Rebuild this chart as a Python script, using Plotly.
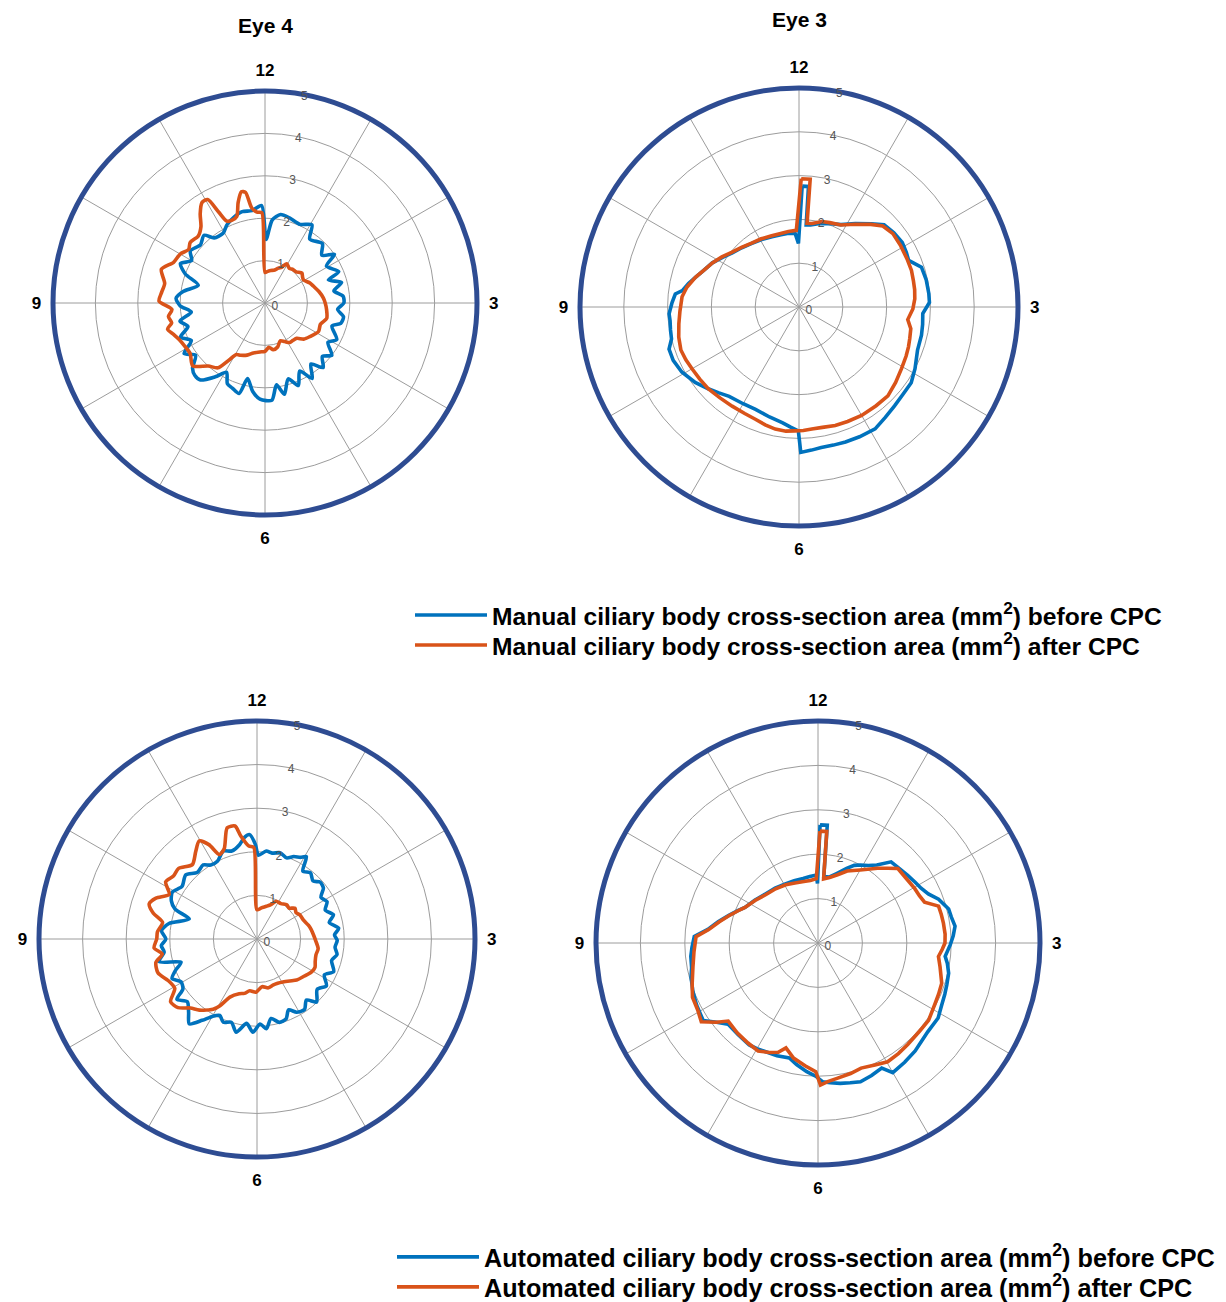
import plotly.graph_objects as go

# ---------------- data (theta in degrees clockwise from 12 o'clock, r in mm^2) -------------
CLOCK_TICKS = [0, 30, 60, 90, 120, 150, 180, 210, 240, 270, 300, 330]
CLOCK_LABELS = ["12", "", "", "3", "", "", "6", "", "", "9", "", ""]
RADIAL_TICKS = [0, 1, 2, 3, 4, 5]

TITLES = ["Eye 4", "Eye 3"]
LEGEND_MANUAL = ["Manual ciliary body cross-section area (mm<sup>2</sup>) before CPC",
                 "Manual ciliary body cross-section area (mm<sup>2</sup>) after CPC"]
LEGEND_AUTO = ["Automated ciliary body cross-section area (mm<sup>2</sup>) before CPC",
               "Automated ciliary body cross-section area (mm<sup>2</sup>) after CPC"]

# Eye 4 - manual
E4_MANUAL_BEFORE = [(1, 1.5), (5, 1.97), (10, 2.12), (16, 2.09), (24, 2.03), (31, 2.15), (35, 1.84), (44, 1.95),
                    (50, 1.75), (55, 2.0), (59, 1.69), (67, 1.89), (70, 1.59), (75, 1.87), (80, 1.65), (85, 1.85),
                    (90, 1.86), (95, 1.72), (100, 1.88), (105, 1.85), (109, 1.67), (117, 1.9), (122, 1.75),
                    (128, 2.0), (133, 1.85), (138, 2.05), (143, 1.8), (148, 2.1), (153, 1.8), (158, 2.1),
                    (163, 1.87), (168, 2.2), (172, 1.95), (176, 2.3), (183, 2.27), (188, 2.1), (193, 1.83),
                    (196, 2.22), (201, 2.15), (205, 2.1), (209, 1.87), (214, 2.1), (220, 2.37), (224, 2.38),
                    (228, 2.3), (233, 2.05), (238, 2.25), (243, 1.95), (248, 2.15), (253, 1.9), (258, 2.05),
                    (263, 1.75), (268, 2.0), (273, 2.1), (278, 1.95), (285, 1.63), (290, 2.0), (295, 2.2),
                    (300, 2.0), (305, 2.15), (312, 2.05), (318, 2.15), (322, 1.95), (329, 1.92), (334, 2.05),
                    (340, 2.15), (346, 2.22), (352, 2.2), (358, 2.3)]
E4_MANUAL_AFTER = [(0, 0.72), (5, 0.75), (10, 0.78), (15, 0.8), (21, 0.88), (25, 0.93), (29, 1.06), (35, 1.0),
                   (40, 1.03), (45, 1.04), (51, 1.12), (55, 1.08), (59, 1.06), (66, 1.16), (71, 1.21), (78, 1.3),
                   (85, 1.38), (90, 1.42), (96, 1.46), (104, 1.5), (111, 1.4), (118, 1.43), (127, 1.32),
                   (133, 1.25), (138, 1.12), (143, 1.1), (148, 1.1), (153, 1.02), (158, 0.96), (164, 1.08),
                   (170, 1.12), (175, 1.05), (180, 1.14), (186, 1.16), (193, 1.21), (199, 1.3), (205, 1.36),
                   (209, 1.39), (213, 1.65), (216, 1.89), (222, 2.0), (229, 2.26), (236, 2.13), (242, 2.15),
                   (247, 2.2), (251, 2.28), (255, 2.38), (258, 2.25), (262, 2.3), (266, 2.2), (271, 2.5),
                   (276, 2.45), (281, 2.41), (288, 2.57), (294, 2.36), (300, 2.31), (305, 2.2), (309, 2.27),
                   (315, 2.23), (320, 2.35), (324, 2.6), (328, 2.8), (331, 2.79), (333, 2.41), (335, 2.13),
                   (338, 2.1), (342, 2.15), (345, 2.45), (348, 2.68), (350, 2.65), (352, 2.27), (355, 2.15),
                   (358, 2.13)]

# Eye 3 - manual
E3_MANUAL_BEFORE = [(1.5, 2.76), (4.5, 2.76), (5, 1.88), (8, 1.89), (13, 1.95), (19, 2.02), (27, 2.11), (34, 2.3),
                    (41, 2.52), (46, 2.7), (52, 2.75), (58, 2.78), (63, 2.75), (67, 2.72), (72, 2.94), (78, 2.97),
                    (84, 2.98), (88, 2.98), (93, 2.83), (98, 2.85), (103, 2.87), (110, 2.88), (118, 3.0),
                    (124, 3.09), (130, 3.1), (136, 3.14), (142, 3.2), (148, 3.28), (155, 3.27), (161, 3.26),
                    (166, 3.25), (171, 3.25), (175, 3.28), (179.3, 3.32), (180.3, 2.83), (184, 2.75), (188, 2.67),
                    (195, 2.6), (203, 2.54), (210, 2.55), (218, 2.59), (223, 2.68), (228, 2.79), (234, 2.93),
                    (241, 3.06), (247, 3.12), (252, 3.12), (256, 3.0), (260, 2.98), (264, 2.96), (267, 2.97),
                    (272, 2.9), (276, 2.84), (278, 2.69), (282, 2.58), (286, 2.46), (291, 2.33), (297, 2.22),
                    (303, 2.08), (309, 1.96), (316, 1.88), (323, 1.81), (331, 1.76), (339, 1.72), (346, 1.7),
                    (352, 1.7), (357, 1.68), (359.5, 1.45)]
E3_MANUAL_AFTER = [(1, 2.93), (5, 2.93), (5.5, 1.92), (9, 1.93), (15, 2.02), (20, 2.05), (27, 2.1), (34, 2.28),
                   (41, 2.5), (46, 2.66), (52, 2.72), (59, 2.71), (66, 2.7), (72, 2.7), (77, 2.68), (81.5, 2.67),
                   (86, 2.65), (91, 2.6), (96.6, 2.5), (101, 2.6), (106, 2.63), (110, 2.66), (114.6, 2.69),
                   (121, 2.73), (128, 2.8), (135, 2.87), (142, 2.86), (150, 2.86), (157, 2.84), (163, 2.83),
                   (169, 2.8), (174, 2.8), (178, 2.82), (182, 2.83), (186, 2.85), (191, 2.84), (196, 2.8),
                   (201, 2.75), (207, 2.73), (214, 2.73), (221, 2.75), (228, 2.79), (234, 2.8), (240, 2.82),
                   (245, 2.85), (250, 2.87), (256, 2.83), (262, 2.77), (268, 2.72), (275, 2.68), (280, 2.6),
                   (286, 2.46), (291, 2.33), (297, 2.22), (303, 2.1), (309, 1.98), (316, 1.89), (323, 1.82),
                   (331, 1.78), (339, 1.74), (346, 1.73), (352, 1.74), (358, 1.75)]

# Eye 4 - automated
E4_AUTO_BEFORE = [(1, 1.92), (6, 2.03), (10, 2.0), (15, 2.05), (20, 1.98), (24, 2.07), (28, 2.12), (31, 2.2),
                  (34, 1.88), (39, 1.95), (44, 1.85), (48, 1.95), (52.5, 1.92), (57, 1.75), (62, 1.82), (67, 1.7),
                  (72.5, 1.84), (77, 1.7), (82.5, 1.89), (87, 1.78), (91, 1.84), (96, 1.8), (101, 1.87),
                  (106, 1.78), (113, 1.91), (118, 1.75), (124, 1.92), (130, 1.8), (136.6, 1.99), (141, 1.8),
                  (146, 1.95), (151.6, 1.91), (156, 1.78), (160, 1.95), (165, 1.98), (170, 1.85), (174, 2.07),
                  (178, 1.95), (182.5, 2.14), (187, 1.95), (192.6, 2.19), (197, 2.0), (202, 2.06), (206, 1.95),
                  (210, 2.05), (214, 2.25), (218.6, 2.49), (223, 2.3), (228, 2.15), (233, 2.3), (236, 2.05),
                  (240.6, 2.0), (245, 2.15), (249, 2.0), (253, 1.82), (257, 2.31), (262, 2.15), (266, 2.2),
                  (270, 2.09), (275, 2.2), (280, 2.05), (286.5, 1.62), (290, 2.0), (294, 2.15), (299, 2.22),
                  (305, 2.1), (312, 2.2), (318, 2.05), (324, 2.1), (328, 2.0), (333, 2.0), (339, 2.16),
                  (344, 2.1), (349.5, 2.2), (353, 2.35), (356, 2.4), (359, 2.17)]
E4_AUTO_AFTER = [(0, 0.67), (8, 0.72), (16, 0.78), (22, 0.85), (27, 0.97), (34, 0.98), (41, 1.04), (46, 1.02),
                 (51, 1.12), (56, 1.08), (61, 1.13), (68, 1.15), (75, 1.22), (80, 1.26), (86, 1.3), (92, 1.35),
                 (99, 1.42), (105, 1.4), (111, 1.43), (116, 1.48), (121, 1.46), (128, 1.38), (136, 1.31),
                 (142, 1.22), (149, 1.15), (155, 1.12), (161, 1.12), (167, 1.15), (174, 1.1), (181, 1.22),
                 (188, 1.2), (193, 1.28), (198, 1.32), (205, 1.47), (209, 1.75), (212, 1.9), (219, 2.1),
                 (224, 2.2), (229, 2.4), (234, 2.45), (239, 2.2), (245, 2.25), (251, 2.4), (257, 2.38),
                 (261, 2.2), (265, 2.37), (270, 2.3), (274, 2.29), (280, 2.2), (284, 2.45), (288, 2.6),
                 (292, 2.5), (297, 2.26), (302, 2.47), (307, 2.4), (312, 2.42), (319, 2.26), (325, 2.45),
                 (329.5, 2.61), (333, 2.43), (336, 2.12), (340, 2.2), (345, 2.64), (349, 2.64), (351, 2.4),
                 (355, 2.14), (358, 2.1)]

# Eye 3 - automated
E3_AUTO_BEFORE = [(1, 2.66), (4.5, 2.66), (5, 1.5), (10, 1.51), (15, 1.62), (21, 1.8), (25, 1.93), (28.5, 2.0),
                  (33, 2.08), (37, 2.2), (42, 2.46), (47, 2.48), (53, 2.53), (58, 2.58), (62, 2.63), (66, 2.72),
                  (70, 2.89), (75.4, 3.04), (79, 3.06), (83, 3.11), (87, 3.05), (90.7, 2.98), (96, 2.88),
                  (99, 2.95), (103, 3.02), (108, 3.05), (112, 3.08), (117, 3.12), (122, 3.19), (129, 3.18),
                  (134, 3.22), (138, 3.27), (144, 3.32), (150, 3.37), (153, 3.16), (158, 3.22), (163, 3.27),
                  (167, 3.23), (171, 3.2), (175, 3.16), (178, 3.13), (181, 3.0), (185, 2.91), (190, 2.78),
                  (194, 2.67), (200, 2.7), (206, 2.72), (210, 2.75), (214, 2.77), (221, 2.74), (228, 2.73),
                  (232, 2.9), (236, 3.12), (243, 3.07), (249, 3.02), (255, 2.96), (259, 2.9), (264, 2.88),
                  (268, 2.84), (273, 2.79), (277, 2.5), (282, 2.3), (287, 2.11), (292, 1.95), (296, 1.83),
                  (304, 1.72), (313, 1.62), (322, 1.57), (331, 1.52), (339, 1.5), (347, 1.49), (353, 1.51),
                  (358.5, 1.53), (359.5, 1.34)]
E3_AUTO_AFTER = [(1, 2.52), (4.5, 2.52), (5, 1.45), (10, 1.5), (16, 1.6), (22, 1.75), (30, 1.9), (38.5, 2.15),
                 (43, 2.3), (47, 2.46), (53, 2.46), (60.7, 2.5), (65, 2.52), (69, 2.57), (73, 2.84), (77, 2.85),
                 (81, 2.86), (86, 2.87), (90, 2.86), (93, 2.8), (96.4, 2.73), (101, 2.8), (108, 2.93),
                 (113, 2.95), (117.5, 2.97), (125, 3.04), (131, 3.03), (138.5, 3.05), (144, 3.08),
                 (149.6, 3.1), (155, 3.03), (161, 2.98), (166, 3.03), (172, 3.08), (176, 3.13), (179, 3.2),
                 (181, 2.9), (186, 2.78), (192, 2.65), (197, 2.47), (200, 2.62), (204, 2.7), (209, 2.78),
                 (215, 2.75), (222, 2.72), (229, 2.68), (232, 2.9), (236, 3.17), (241, 3.1), (246.6, 3.08),
                 (252, 2.98), (259, 2.87), (266, 2.8), (273, 2.75), (277, 2.48), (282, 2.28), (287, 2.1),
                 (292, 1.94), (296, 1.83), (304, 1.71), (313, 1.6), (322, 1.55), (331, 1.5), (339, 1.45),
                 (347, 1.42), (353, 1.42), (358.5, 1.45)]

# ---------------- styling / layout ----------------
W, H = 1226, 1302
OFF = 8                       # default page margin around the plot div
BLUE = "#0072BD"
ORANGE = "#D95319"
RING = "#2E4C92"
GRID = "#9c9c9c"
FONT = "Liberation Sans"

# polar panels: (center x px, center y px, radius px) in page pixels
PANELS = {
    "polar": (265, 303, 212),
    "polar2": (799, 307, 219),
    "polar3": (257, 939, 218),
    "polar4": (818, 943, 222),
}


def px(x):
    return (x - OFF) / W


def py(y):
    return 1 - (y - OFF) / H


def domain(cx, cy, rad):
    return dict(x=[px(cx - rad), px(cx + rad)], y=[py(cy + rad), py(cy - rad)])


fig = go.Figure()

series = [
    ("polar", E4_MANUAL_BEFORE, E4_MANUAL_AFTER, ("legend", "legend2"), True, LEGEND_MANUAL, "spline"),
    ("polar2", E3_MANUAL_BEFORE, E3_MANUAL_AFTER, ("legend", "legend2"), False, LEGEND_MANUAL, "linear"),
    ("polar3", E4_AUTO_BEFORE, E4_AUTO_AFTER, ("legend3", "legend4"), True, LEGEND_AUTO, "spline"),
    ("polar4", E3_AUTO_BEFORE, E3_AUTO_AFTER, ("legend3", "legend4"), False, LEGEND_AUTO, "linear"),
]

for sub, before, after, legs, show, names, shape in series:
    for data, color, name, leg in ((before, BLUE, names[0], legs[0]), (after, ORANGE, names[1], legs[1])):
        th = [p[0] for p in data] + [data[0][0]]
        rr = [p[1] for p in data] + [data[0][1]]
        line = dict(color=color, width=3.6, shape=shape)
        if shape == "spline":
            line["smoothing"] = 0.7
        fig.add_trace(go.Scatterpolar(
            theta=th, r=rr, mode="lines", subplot=sub, line=line,
            name=name, legend=leg, showlegend=show, hoverinfo="skip",
        ))

polar_common = dict(
    bgcolor="white",
    angularaxis=dict(
        direction="clockwise", rotation=90,
        tickmode="array", tickvals=CLOCK_TICKS, ticktext=CLOCK_LABELS,
        tickfont=dict(family=FONT, size=17, color="black", weight="bold"),
        ticks="outside", ticklen=6, tickcolor="rgba(0,0,0,0)",
        showline=True, linecolor=RING, linewidth=5,
        showgrid=True, gridcolor=GRID, gridwidth=1,
    ),
    radialaxis=dict(
        range=[0, 5], tickmode="array", tickvals=RADIAL_TICKS,
        showline=False, showgrid=True, gridcolor=GRID, gridwidth=1,
        angle=82, tickangle=82, ticks="",
        tickfont=dict(family=FONT, size=12, color="#555555"),
    ),
)

layout_polars = {}
for key, (cx, cy, rad) in PANELS.items():
    layout_polars[key] = dict(domain=domain(cx, cy, rad), **polar_common)


def legend_at(x, y, itemwidth, size):
    return dict(
        x=px(x), y=py(y), xanchor="left", yanchor="middle",
        font=dict(family=FONT, size=size, color="black", weight="bold"),
        bgcolor="rgba(0,0,0,0)", itemwidth=itemwidth, borderwidth=0,
    )


fig.update_layout(
    width=W, height=H,
    margin=dict(l=0, r=0, t=0, b=0),
    paper_bgcolor="white",
    showlegend=True,
    legend=legend_at(410, 615, 72, 24.6),
    legend2=legend_at(410, 645, 72, 24.6),
    legend3=legend_at(392, 1257, 82, 25.2),
    legend4=legend_at(392, 1287, 82, 25.2),
    annotations=[
        dict(text="<b>" + TITLES[0] + "</b>", x=px(265), y=py(25), xref="paper", yref="paper",
             xanchor="center", yanchor="middle", showarrow=False,
             font=dict(family=FONT, size=21, color="black")),
        dict(text="<b>" + TITLES[1] + "</b>", x=px(799), y=py(19), xref="paper", yref="paper",
             xanchor="center", yanchor="middle", showarrow=False,
             font=dict(family=FONT, size=21, color="black")),
    ],
    **layout_polars,
)

fig.write_html("out.html")
